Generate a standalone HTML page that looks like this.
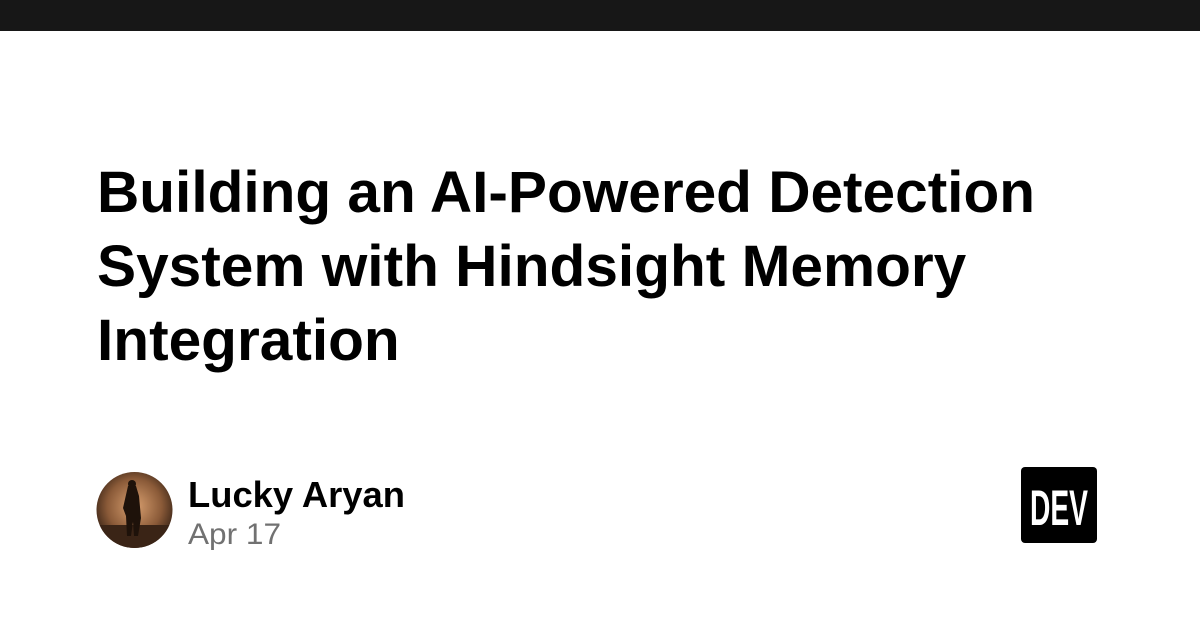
<!DOCTYPE html>
<html><head><meta charset="utf-8"><style>
html,body{margin:0;padding:0;background:#fff;}
body{width:1200px;height:627px;overflow:hidden;position:relative;}
</style></head><body>
<svg width="1200" height="627" viewBox="0 0 1200 627" xmlns="http://www.w3.org/2000/svg" style="position:absolute;left:0;top:0">
<defs>
<radialGradient id="av" cx="0.5" cy="0.45" r="0.6">
<stop offset="0" stop-color="#d9a070"/>
<stop offset="0.6" stop-color="#8a5a38"/>
<stop offset="1" stop-color="#2a1a10"/>
</radialGradient>
<clipPath id="c"><circle cx="134.5" cy="510" r="38"/></clipPath>
</defs>
<rect x="0" y="0" width="1200" height="31" fill="#171717"/>
<g font-family="Liberation Sans, sans-serif" font-weight="bold" font-size="58.6" fill="#000">
<text x="97" y="212" textLength="938" lengthAdjust="spacingAndGlyphs">Building an AI-Powered Detection</text>
<text x="97" y="286">System with Hindsight Memory</text>
<text x="97" y="360">Integration</text>
</g>
<circle cx="134.5" cy="510" r="38" fill="url(#av)"/>
<g clip-path="url(#c)">
<rect x="96" y="525" width="78" height="25" fill="#3a2416"/>
<path d="M128 486 h8 l3 10 l2 22 l-3 18 h-4 l-1 -14 l-2 14 h-4 l-1 -20 l-3 -8 z" fill="#1e120a"/>
<circle cx="132" cy="484" r="4" fill="#1e120a"/>
</g>
<text x="188" y="507" font-family="Liberation Sans, sans-serif" font-weight="bold" font-size="36" fill="#000" textLength="217" lengthAdjust="spacingAndGlyphs">Lucky Aryan</text>
<text x="188" y="544" font-family="Liberation Sans, sans-serif" font-size="30" fill="#717171" textLength="93" lengthAdjust="spacingAndGlyphs">Apr 17</text>
<rect x="1021" y="467" width="76" height="76" rx="4" fill="#000"/>
<text x="1059" y="525" text-anchor="middle" font-family="Liberation Sans, sans-serif" font-weight="bold" font-size="50" fill="#fff" textLength="58" lengthAdjust="spacingAndGlyphs">DEV</text>
</svg>
</body></html>
